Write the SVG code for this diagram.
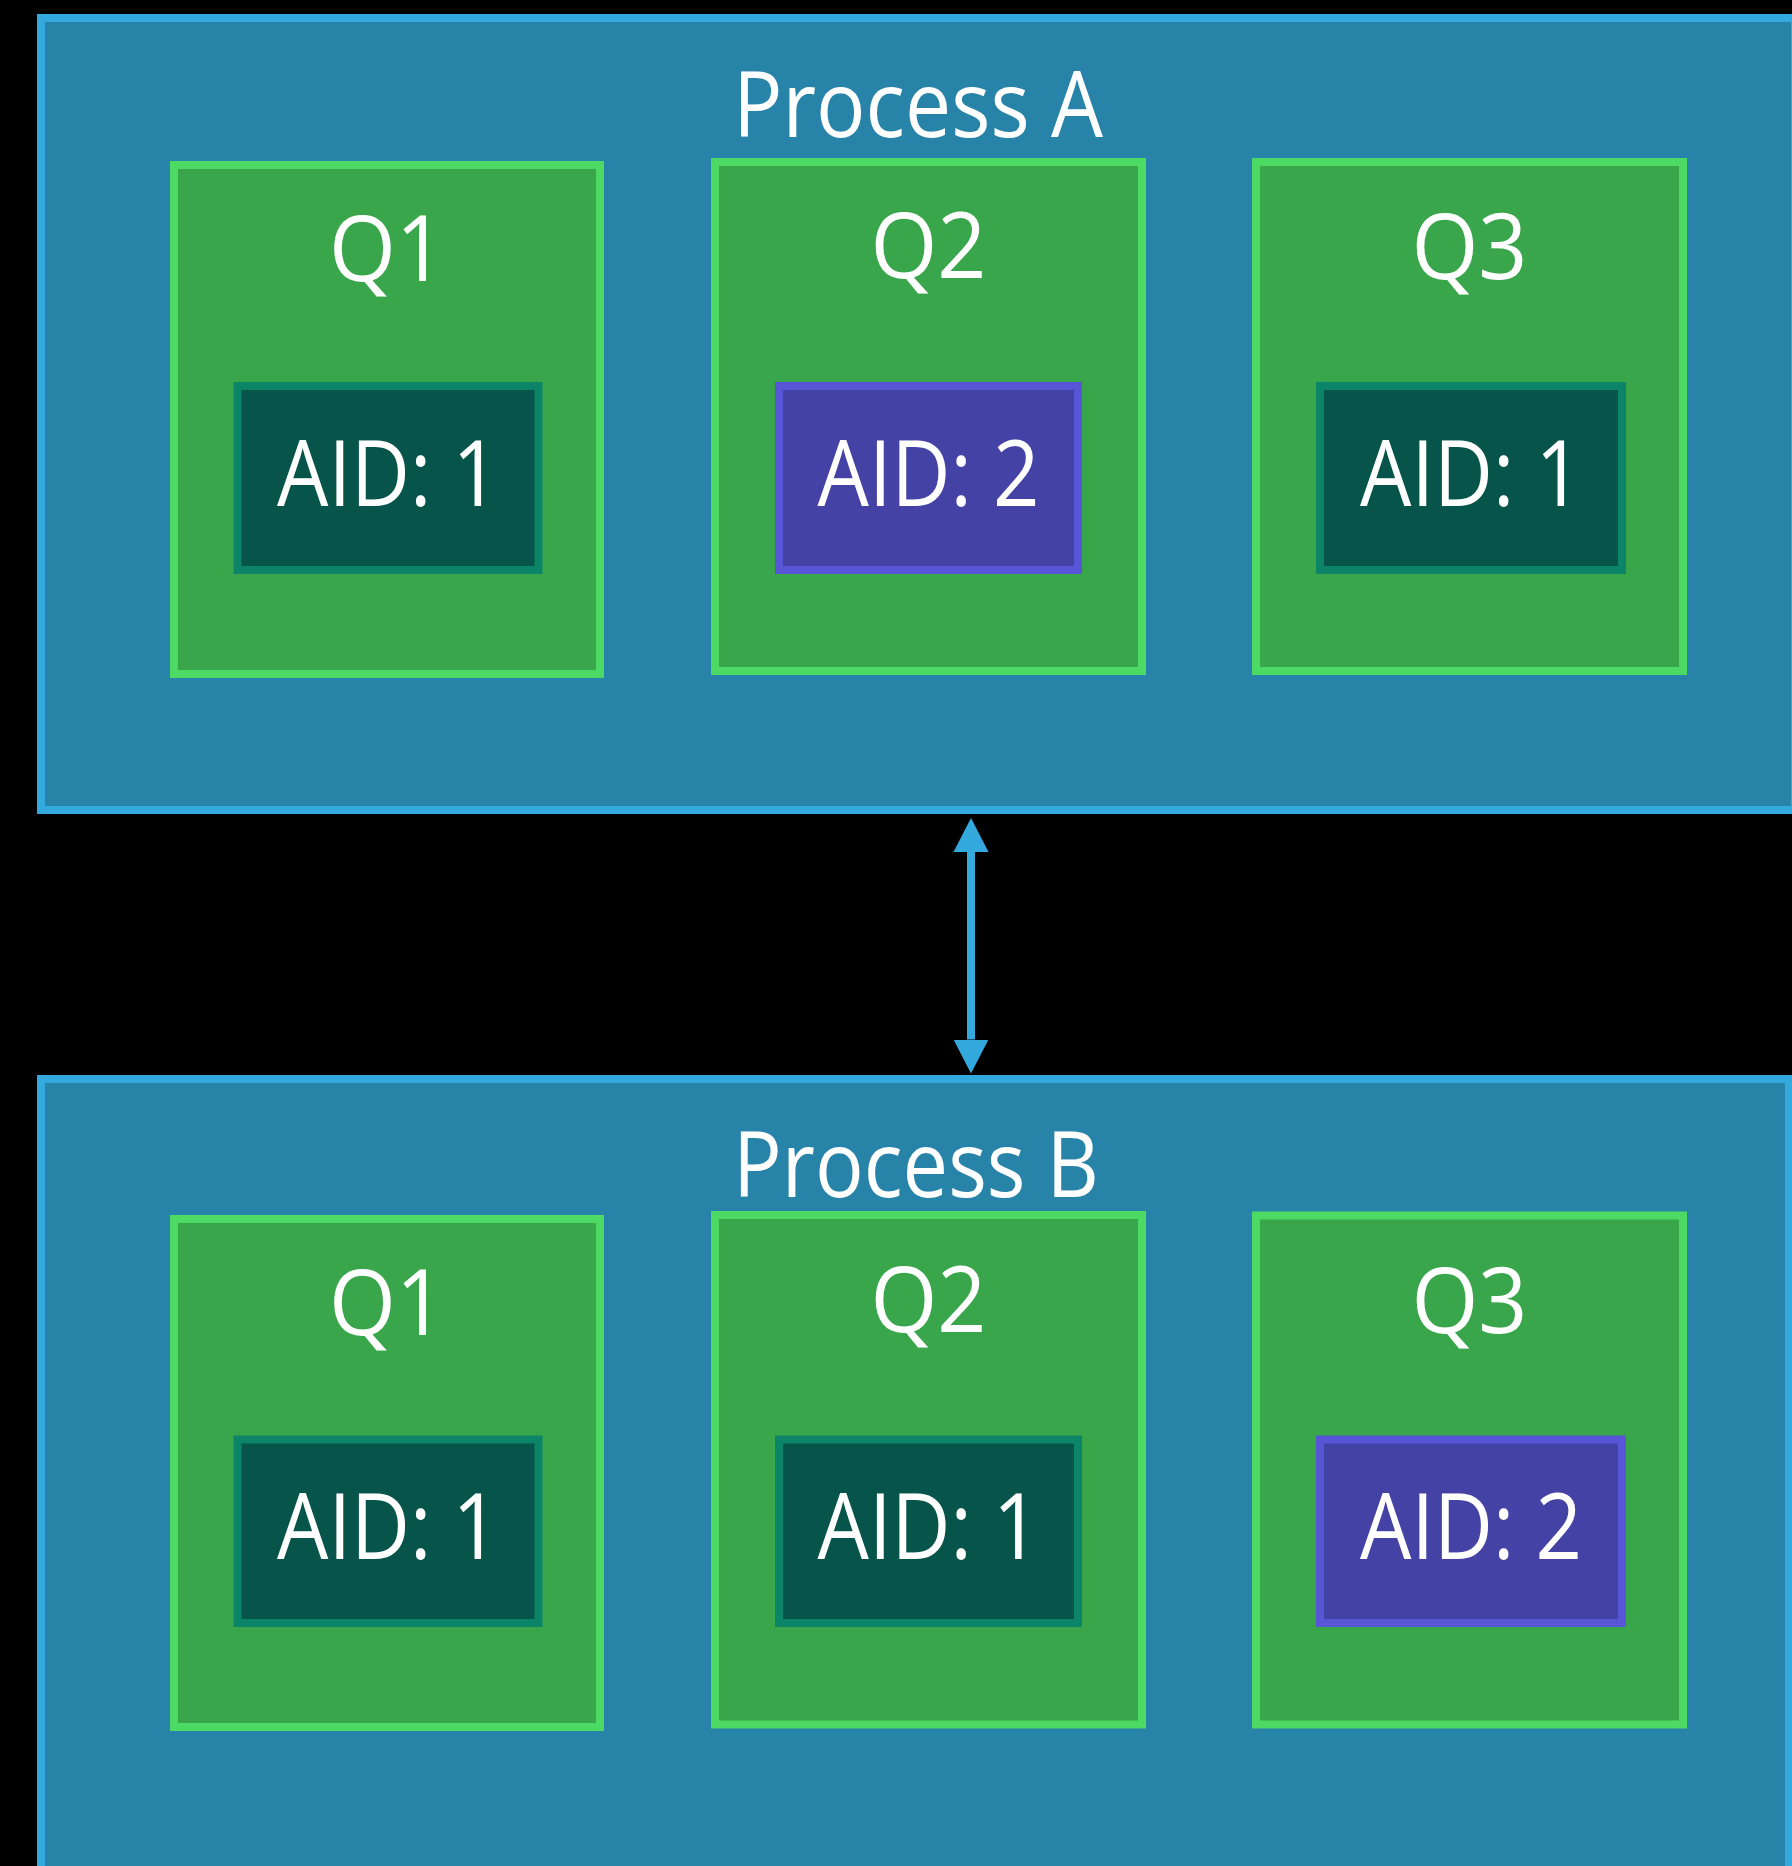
<svg xmlns="http://www.w3.org/2000/svg" width="1792" height="1866" viewBox="0 0 1792 1866">
  <defs>
    <style>
      .proc { fill: #2883a8; stroke: #34a9dd; stroke-width: 8; }
      .queue { fill: #3aa64c; stroke: #4cd964; stroke-width: 8; }
      .aid1 { fill: #07554a; stroke: #0b8468; stroke-width: 8; }
      .aid2 { fill: #4542a6; stroke: #5856d6; stroke-width: 8; }
      text { font-family: "Open Sans", "Noto Sans", "Liberation Sans", sans-serif; font-weight: 400; fill: #ffffff; font-size: 92px; text-anchor: middle; }
      .conn { stroke: #34a9dd; stroke-width: 8; fill: none; }
    </style>
    <marker id="arrow" markerUnits="userSpaceOnUse" markerWidth="36" markerHeight="38" viewBox="0 -19 36 38" refX="0" refY="0" orient="auto-start-reverse">
      <path d="M0,-17.5 L34,0 L0,17.5 Z" fill="#34a9dd"/>
    </marker>
  </defs>
  <rect x="0" y="0" width="1792" height="1866" fill="#000000"/>

  <g id="processA">
    <rect class="proc" x="41" y="18" width="1754" height="792"/>
    <text x="918" y="137" textLength="370" lengthAdjust="spacingAndGlyphs">Process A</text>
  </g>
  <g id="processB">
    <rect class="proc" x="41" y="1079" width="1748" height="900"/>
    <text x="916" y="1197" textLength="366" lengthAdjust="spacingAndGlyphs">Process B</text>
  </g>

  <g id="A-Q1">
    <rect class="queue" x="174" y="165" width="426" height="509"/>
    <text x="387" y="281" textLength="116" lengthAdjust="spacingAndGlyphs">Q1</text>
  </g>
  <g id="A-Q1-AID">
    <rect class="aid1" x="237.5" y="386" width="301" height="184"/>
    <text x="388" y="506" textLength="222" lengthAdjust="spacingAndGlyphs">AID: 1</text>
  </g>
  <g id="A-Q2">
    <rect class="queue" x="715" y="162" width="427" height="509"/>
    <text x="928.5" y="277.5" textLength="116" lengthAdjust="spacingAndGlyphs">Q2</text>
  </g>
  <g id="A-Q2-AID">
    <rect class="aid2" x="779" y="386" width="299" height="184"/>
    <text x="928.5" y="506" textLength="222" lengthAdjust="spacingAndGlyphs">AID: 2</text>
  </g>
  <g id="A-Q3">
    <rect class="queue" x="1256" y="162" width="427" height="509"/>
    <text x="1469.5" y="279" textLength="116" lengthAdjust="spacingAndGlyphs">Q3</text>
  </g>
  <g id="A-Q3-AID">
    <rect class="aid1" x="1320" y="386" width="302" height="184"/>
    <text x="1471" y="506" textLength="222" lengthAdjust="spacingAndGlyphs">AID: 1</text>
  </g>

  <g id="B-Q1">
    <rect class="queue" x="174" y="1219" width="426" height="508"/>
    <text x="387" y="1334.5" textLength="116" lengthAdjust="spacingAndGlyphs">Q1</text>
  </g>
  <g id="B-Q1-AID">
    <rect class="aid1" x="237.5" y="1439.5" width="301" height="183.5"/>
    <text x="388" y="1558.5" textLength="222" lengthAdjust="spacingAndGlyphs">AID: 1</text>
  </g>
  <g id="B-Q2">
    <rect class="queue" x="715" y="1215" width="427" height="509.5"/>
    <text x="928.5" y="1331.5" textLength="116" lengthAdjust="spacingAndGlyphs">Q2</text>
  </g>
  <g id="B-Q2-AID">
    <rect class="aid1" x="779" y="1439.5" width="299" height="183.5"/>
    <text x="928.5" y="1558.5" textLength="222" lengthAdjust="spacingAndGlyphs">AID: 1</text>
  </g>
  <g id="B-Q3">
    <rect class="queue" x="1256" y="1215.5" width="427" height="509"/>
    <text x="1469.5" y="1332.5" textLength="116" lengthAdjust="spacingAndGlyphs">Q3</text>
  </g>
  <g id="B-Q3-AID">
    <rect class="aid2" x="1320" y="1439.5" width="302" height="183.5"/>
    <text x="1471" y="1558.5" textLength="222" lengthAdjust="spacingAndGlyphs">AID: 2</text>
  </g>

  <g id="connectors">
    <line class="conn" x1="971" y1="852" x2="971" y2="1039.5" marker-start="url(#arrow)" marker-end="url(#arrow)"/>
  </g>
</svg>
